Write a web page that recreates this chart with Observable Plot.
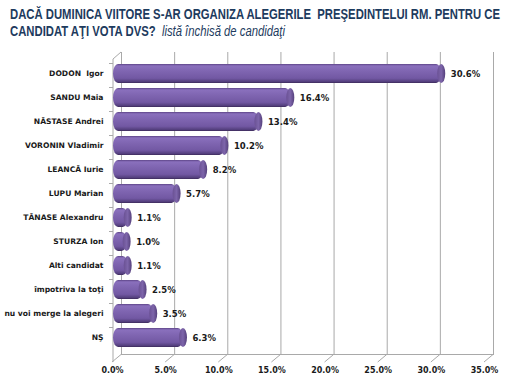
<!DOCTYPE html>
<html><head><meta charset="utf-8">
<script src="https://cdn.jsdelivr.net/npm/d3@7"></script>
<script src="https://cdn.jsdelivr.net/npm/@observablehq/plot@0.6"></script>
<style>
body{margin:0;background:#fff;width:508px;height:377px;overflow:hidden;position:relative}
#title{position:relative;height:46px;color:#1d3b5e;font-family:"Liberation Sans Narrow","Liberation Sans",sans-serif;font-weight:bold;font-size:15px}
#title div{position:absolute;left:10px;white-space:pre;transform-origin:0 0;line-height:17px}
#t1{top:5px}
#t2{top:22px}
#t2 i{font-weight:normal;}
#chart svg{display:block;overflow:visible}
#chart svg text{font-family:"DejaVu Sans",Verdana,sans-serif;font-weight:bold}
</style></head>
<body>
<div id="title"><div id="t1">DACĂ DUMINICA VIITORE S-AR ORGANIZA ALEGERILE  PREŞEDINTELUI RM. PENTRU CE</div><div id="t2">CANDIDAT AŢI VOTA DVS?  <i>listă închisă de candidaţi</i></div></div>
<div id="chart"></div>
<script>
const categories = ["DODON  Igor","SANDU Maia","NĂSTASE Andrei","VORONIN Vladimir","LEANCĂ Iurie","LUPU Marian","TĂNASE Alexandru","STURZA Ion","Alti candidat","împotriva la toţi","nu voi merge la alegeri","NŞ"];
const values = [30.6,16.4,13.4,10.2,8.2,5.7,1.1,1.0,1.1,2.5,3.5,6.3];
const xTicks = [0,5,10,15,20,25,30,35];

// fit title width
const t1 = document.getElementById("t1"), t2 = document.getElementById("t2");
const k = 490 / t1.getBoundingClientRect().width;
t1.style.transform = `scaleX(${k})`;
t2.style.transform = `scaleX(${k})`;

const data = categories.map((c,i)=>({cat:c, v:values[i]}));
const fmt = v => v.toFixed(1) + "%";
const depth = 9;

const chart = Plot.plot({
  width: 508, height: 331,
  marginLeft: 112, marginRight: 24, marginTop: 7, marginBottom: 19,
  style: {fontFamily: "DejaVu Sans, Verdana, sans-serif", fontSize: "8px", fontWeight: "bold", color: "#222", background: "transparent"},
  x: {domain: [0,35], ticks: xTicks, tickFormat: fmt},
  y: {domain: categories, padding: 0.2},
  marks: [
    Plot.ruleX(xTicks, {x: d=>d, dx: depth, stroke: "#a9a9a9", strokeWidth: 1, strokeOpacity: 1, insetTop: -1, insetBottom: 3}),
    Plot.barX(data, {x1: 0, x2: "v", y: "cat", dx: 4, insetLeft: -3, rx: 5, ry: 10, fill: "url(#cyl)"}),
    Plot.barX(data, {x1: "v", x2: "v", y: "cat", dx: 4, insetLeft: -4, insetRight: -4, rx: 4, ry: 10, fill: "url(#cap)"}),
    Plot.text(data, {x: "v", y: "cat", text: d => fmt(d.v), dx: 13, textAnchor: "start", fill: "#1a1a1a", fontSize: 8.5, fontFamily: "DejaVu Sans", fontWeight: "bold"}),
    Plot.axisY({tickSize: 0, tickPadding: 9, label: null, fill: "#1a1a1a", fontFamily: "DejaVu Sans", fontWeight: "bold", fontSize: 7.6}),
    Plot.axisX({ticks: xTicks, tickFormat: fmt, tickSize: 0, tickPadding: 9, label: null, fill: "#1a1a1a", fontFamily: "DejaVu Sans", fontWeight: "bold", fontSize: 8})
  ]
});
document.getElementById("chart").appendChild(chart);

const svg = d3.select(chart);
const defs = svg.insert("defs", ":first-child");
const g = defs.append("linearGradient").attr("id","cyl").attr("x1",0).attr("y1",0).attr("x2",0).attr("y2",1);
[[0,"#5e4588"],[0.1,"#8a70bd"],[0.35,"#8066b2"],[0.75,"#7258a3"],[0.92,"#55407f"],[1,"#3c2a5a"]]
  .forEach(([o,c])=>g.append("stop").attr("offset",o).attr("stop-color",c));
const gc = defs.append("linearGradient").attr("id","cap").attr("x1",0).attr("y1",0).attr("x2",1).attr("y2",0);
[[0,"#6a5194"],[0.5,"#7d65aa"],[1,"#55407c"]]
  .forEach(([o,c])=>gc.append("stop").attr("offset",o).attr("stop-color",c));

// 3D wall / floor decorations derived from the scales
const xs = chart.scale("x"), ys = chart.scale("y");
const deco = svg.insert("g", "g").attr("stroke","#a9a9a9").attr("fill","none").attr("stroke-width",1);
const x0 = xs.apply(0);
const yTop = 7, yBot = 312;
deco.append("line").attr("x1", x0+depth).attr("x2", xs.apply(35)+depth).attr("y1", yBot-3.5).attr("y2", yBot-3.5);
xTicks.forEach(t => {
  const x = xs.apply(t);
  deco.append("line").attr("x1", x).attr("y1", yBot+4).attr("x2", x+depth).attr("y2", yBot-3.5);
});
deco.append("line").attr("x1", x0+1).attr("x2", x0+1).attr("y1", yTop+6).attr("y2", yBot+4);
deco.append("line").attr("x1", x0+1).attr("y1", yTop+6).attr("x2", x0+depth).attr("y2", yTop-1);
const step = ys.step, bw = ys.bandwidth;
categories.forEach((c,i) => {
  const yb = ys.apply(c) - (step - bw)/2;
  deco.append("line").attr("x1", x0-3).attr("x2", x0+1).attr("y1", yb+2).attr("y2", yb+2);
});
</script>
</body></html>
